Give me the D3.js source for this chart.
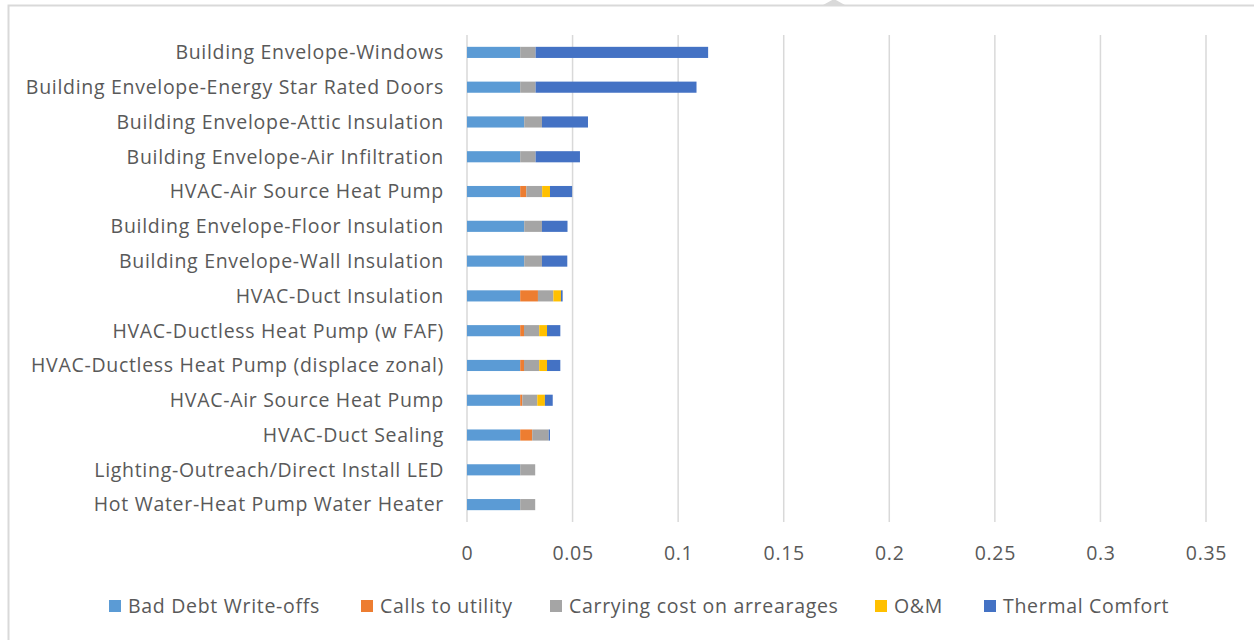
<!DOCTYPE html>
<html>
<head>
<meta charset="utf-8">
<script src="https://cdn.jsdelivr.net/npm/d3@7"></script>
<style>
  body { margin: 0; background: #fff; }
  svg text { font-family: "Open Sans", Lato, sans-serif; fill: #595959; letter-spacing: 0.7px; }
</style>
</head>
<body>
<svg id="chart" width="1254" height="640"></svg>
<script>
// DATA (top to bottom as drawn)
var measures = [
    "Building Envelope-Windows",
    "Building Envelope-Energy Star Rated Doors",
    "Building Envelope-Attic Insulation",
    "Building Envelope-Air Infiltration",
    "HVAC-Air Source Heat Pump",
    "Building Envelope-Floor Insulation",
    "Building Envelope-Wall Insulation",
    "HVAC-Duct Insulation",
    "HVAC-Ductless Heat Pump (w FAF)",
    "HVAC-Ductless Heat Pump (displace zonal)",
    "HVAC-Air Source Heat Pump",
    "HVAC-Duct Sealing",
    "Lighting-Outreach/Direct Install LED",
    "Hot Water-Heat Pump Water Heater"
];
var seriesNames = ["Bad Debt Write-offs", "Calls to utility", "Carrying cost on arrearages", "O&M", "Thermal Comfort"];
var seriesColors = ["#5b9bd5", "#ed7d31", "#a5a5a5", "#ffc000", "#4472c4"];

var badDebt   = [0.0252, 0.0252, 0.0271, 0.0252, 0.0252, 0.0271, 0.0271, 0.0252, 0.0252, 0.0252, 0.0252, 0.0252, 0.0252, 0.0252];
var calls     = [0,      0,      0,      0,      0.0029, 0,      0,      0.0084, 0.0018, 0.0018, 0.0010, 0.0057, 0,      0];
var carrying  = [0.0073, 0.0073, 0.0084, 0.0073, 0.0075, 0.0084, 0.0084, 0.0073, 0.0072, 0.0072, 0.0071, 0.0078, 0.0071, 0.0071];
var om        = [0,      0,      0,      0,      0.0037, 0,      0,      0.0036, 0.0037, 0.0037, 0.0036, 0,      0,      0];
var thermal   = [0.0817, 0.0762, 0.0218, 0.0210, 0.0105, 0.0121, 0.0120, 0.0008, 0.0063, 0.0063, 0.0037, 0.0006, 0,      0];

var xTicks = [0, 0.05, 0.1, 0.15, 0.2, 0.25, 0.3, 0.35];

// build rows for the stack
var rows = measures.map(function(m, i) {
    return { key: i, name: m, s0: badDebt[i], s1: calls[i], s2: carrying[i], s3: om[i], s4: thermal[i] };
});
var stack = d3.stack().keys(["s0", "s1", "s2", "s3", "s4"])(rows);

var svg = d3.select("#chart");

// frame of the chart object
svg.append("path")
    .attr("d", "M8.5,640 L8.5,5.5 L1254,5.5")
    .attr("fill", "none").attr("stroke", "#d9d9d9").attr("stroke-width", 2);
svg.append("path")
    .attr("d", "M823,5 L834,-1 L845,5 Z")
    .attr("fill", "#d9d9d9");

var x = d3.scaleLinear().domain([0, 0.35]).range([467, 1206]);
var y = d3.scaleBand().domain(d3.range(measures.length)).range([35, 522]).paddingInner(0.68).paddingOuter(0.34);

// gridlines
svg.append("g").selectAll("line").data(xTicks).join("line")
    .attr("x1", function(d) { return x(d); }).attr("x2", function(d) { return x(d); })
    .attr("y1", 35).attr("y2", 522)
    .attr("stroke", "#d9d9d9").attr("stroke-width", 1.5);

// bars
svg.append("g").selectAll("g").data(stack).join("g")
    .attr("fill", function(d, i) { return seriesColors[i]; })
  .selectAll("rect").data(function(d) { return d; }).join("rect")
    .attr("x", function(d) { return x(d[0]); })
    .attr("width", function(d) { return Math.max(0, x(d[1]) - x(d[0])); })
    .attr("y", function(d) { return y(d.data.key); })
    .attr("height", y.bandwidth());

// category labels
svg.append("g").selectAll("text").data(measures).join("text")
    .attr("x", 444)
    .attr("y", function(d, i) { return y(i) + y.bandwidth() / 2; })
    .attr("dy", "0.35em")
    .attr("text-anchor", "end")
    .attr("font-size", 19.5)
    .text(function(d) { return d; });

// x axis labels
var xAxis = d3.axisBottom(x).tickValues(xTicks).tickSize(0).tickPadding(0)
    .tickFormat(function(d) { return String(d); });
var ax = svg.append("g").attr("transform", "translate(0,546)").call(xAxis);
ax.select(".domain").remove();
ax.selectAll("text").attr("font-size", 19.5).attr("font-family", null).attr("dy", "0.35em").attr("y", 7);

// legend
var legendX = [109, 361, 550, 875, 984];
var lg = svg.append("g").selectAll("g").data(seriesNames).join("g")
    .attr("transform", function(d, i) { return "translate(" + legendX[i] + ",606)"; });
lg.append("rect").attr("x", 0).attr("y", -6).attr("width", 12).attr("height", 12)
    .attr("fill", function(d, i) { return seriesColors[i]; });
lg.append("text").attr("x", 19).attr("dy", "0.35em").attr("font-size", 19.5)
    .text(function(d) { return d; });
</script>
</body>
</html>
